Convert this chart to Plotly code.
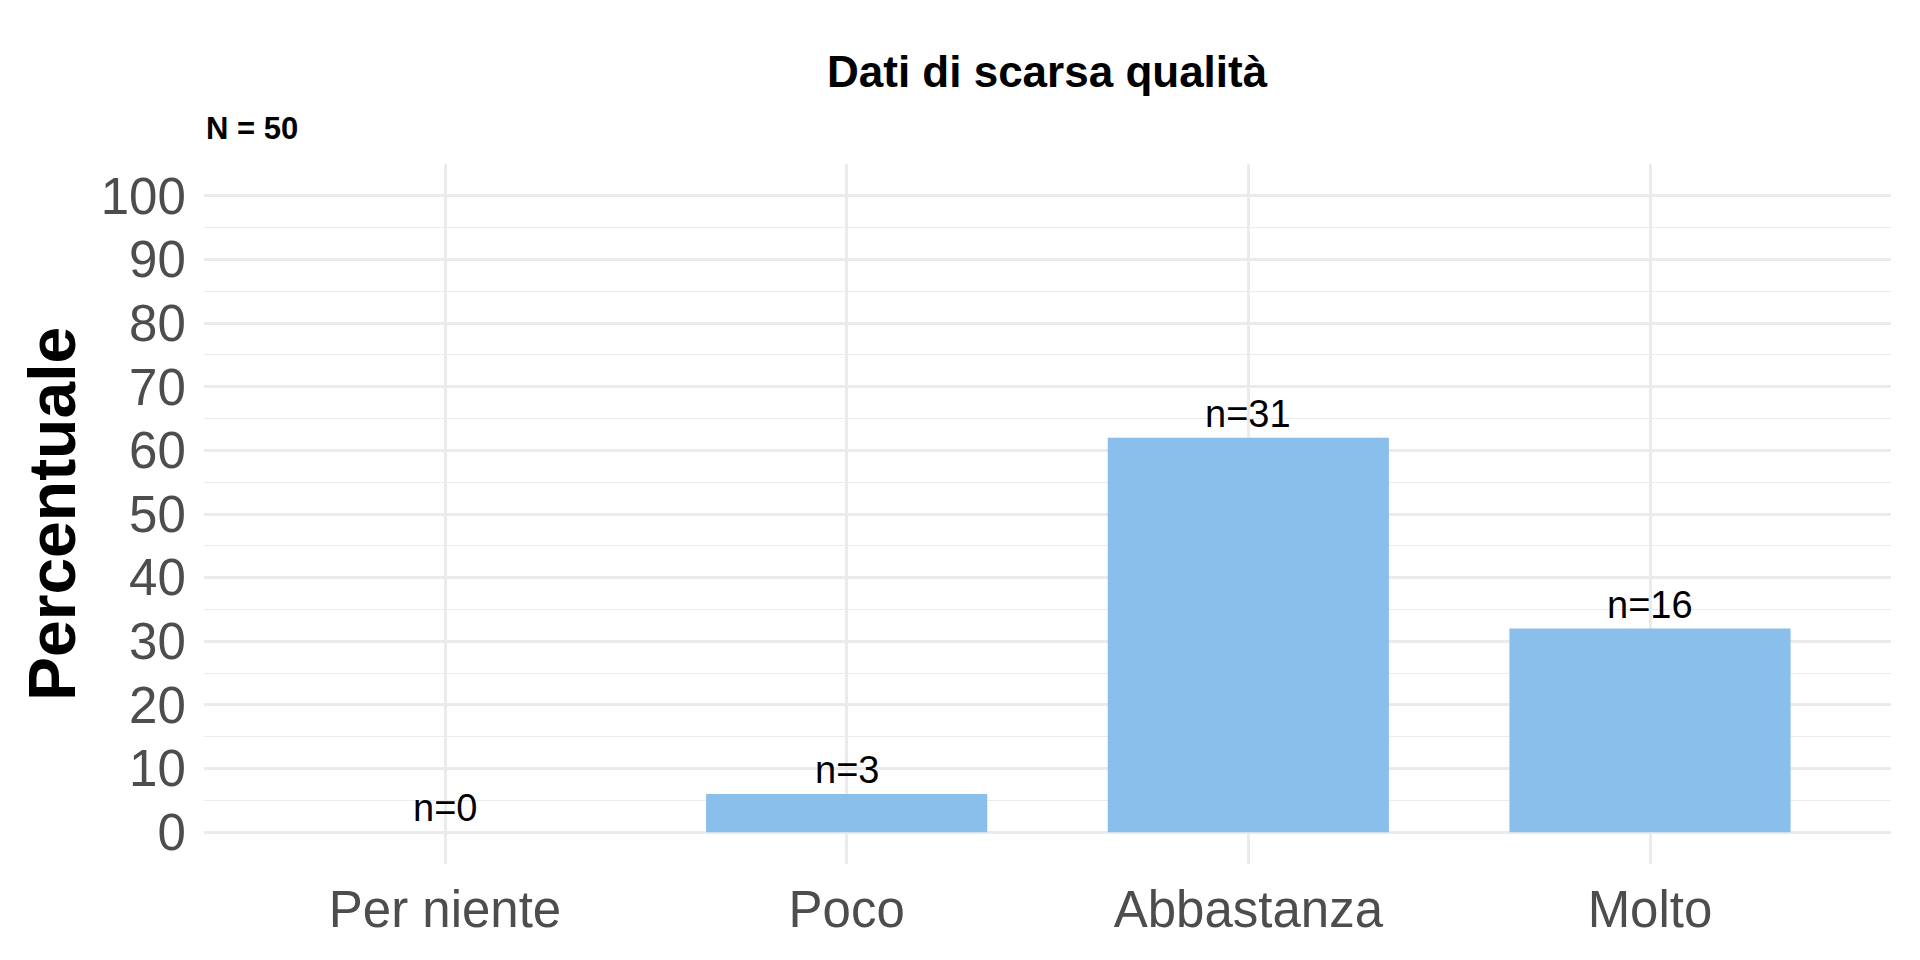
import plotly.graph_objects as go

categories = ["Per niente", "Poco", "Abbastanza", "Molto"]
counts = [0, 3, 31, 16]
percent = [0, 6, 62, 32]
total_n = 50
title_text = "Dati di scarsa qualità"
y_title = "Percentuale"
y_ticks = [0, 10, 20, 30, 40, 50, 60, 70, 80, 90, 100]

FONT = "Liberation Sans, Arial, sans-serif"
GRID = "#EBEBEB"
BAR = "#8ABEEB"

top_px, bottom_px = 164, 864.5
plot_h = bottom_px - top_px

fig = go.Figure()
fig.add_trace(go.Bar(
    x=categories, y=percent, width=0.7,
    marker=dict(color=BAR, line=dict(width=0)),
    hoverinfo="skip",
))

annotations = []
for c, p, n in zip(categories, percent, counts):
    annotations.append(dict(
        x=c, y=p, xref="x", yref="y", text=f"n={n}", showarrow=False,
        xanchor="center", yanchor="bottom", yshift=1,
        font=dict(family=FONT, size=38, color="black"),
    ))

annotations.append(dict(
    x=0.5, xref="paper", y=1 + (top_px - 71.5) / plot_h, yref="paper",
    text=f"<b>{title_text}</b>",
    showarrow=False, xanchor="center", yanchor="middle",
    font=dict(family=FONT, size=44, color="black"),
))
annotations.append(dict(
    x=0.0, xref="paper", y=1 + (top_px - 128.6) / plot_h, yref="paper",
    text=f"<b>N = {total_n}</b>",
    showarrow=False, xanchor="left", yanchor="middle",
    font=dict(family=FONT, size=31, color="black"),
))
annotations.append(dict(
    x=-0.0901, xref="paper", y=0.5, yref="paper", text=f"<b>{y_title}</b>",
    showarrow=False, xanchor="center", yanchor="middle", textangle=-90,
    font=dict(family=FONT, size=66, color="black"),
))

fig.update_layout(
    width=1920, height=960,
    margin=dict(l=204, r=29, t=top_px, b=960 - bottom_px, autoexpand=False),
    paper_bgcolor="white", plot_bgcolor="white",
    showlegend=False,
    annotations=annotations,
    xaxis=dict(
        type="category", categoryorder="array", categoryarray=categories,
        range=[-0.6, 3.6],
        showgrid=True, gridcolor=GRID, gridwidth=2.7,
        zeroline=False, showline=False,
        ticks="outside", ticklen=1, tickcolor="rgba(0,0,0,0)",
        tickfont=dict(family=FONT, size=51, color="#4D4D4D"),
    ),
    yaxis=dict(
        range=[-5, 105],
        tickmode="array", tickvals=y_ticks, ticktext=[str(v) for v in y_ticks],
        showgrid=True, gridcolor=GRID, gridwidth=2.7,
        zeroline=False, showline=False,
        ticks="outside", ticklen=7, tickcolor="rgba(0,0,0,0)",
        tickfont=dict(family=FONT, size=51, color="#4D4D4D"),
        minor=dict(tickmode="linear", tick0=-5, dtick=10, showgrid=True,
                   gridcolor=GRID, gridwidth=1.3, ticks=""),
    ),
)

fig.write_html(
    "out.html",
    config={"displayModeBar": False},
    post_script="document.body.style.margin='0';document.body.style.overflow='hidden';",
)
